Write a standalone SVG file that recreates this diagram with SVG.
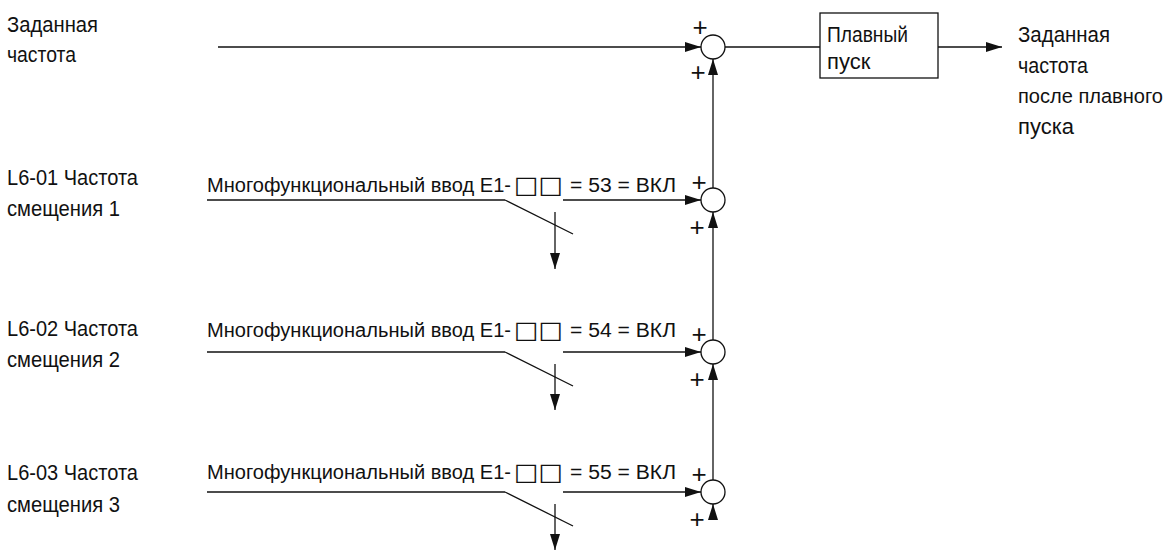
<svg xmlns="http://www.w3.org/2000/svg" width="1168" height="553" viewBox="0 0 1168 553">
<defs>
<style>
text{font-family:"Liberation Sans",Arial,sans-serif;font-size:22px;fill:#111}
.sw{font-size:20px}
.sq{font-family:"DejaVu Sans",sans-serif;font-size:24px}
.ln{stroke:#111;stroke-width:1.3;fill:none}
.sum{stroke:#111;stroke-width:1.3;fill:#fff}
.plus{font-size:26px;text-anchor:middle}
</style>
<marker id="ah" viewBox="0 0 16 10" refX="16" refY="5" markerWidth="16" markerHeight="10" markerUnits="userSpaceOnUse" orient="auto">
<path d="M0,0 L16,5 L0,10 Z" fill="#111"/>
</marker>
</defs>
<rect width="1168" height="553" fill="#fff"/>

<g id="label-ref-in">
<text x="7" y="32" textLength="91" lengthAdjust="spacingAndGlyphs">Заданная</text>
<text x="7" y="62" textLength="69" lengthAdjust="spacingAndGlyphs">частота</text>
</g>
<g id="label-L6-01">
<text x="7" y="185" textLength="131" lengthAdjust="spacingAndGlyphs">L6-01 Частота</text>
<text x="7" y="216" textLength="113" lengthAdjust="spacingAndGlyphs">смещения 1</text>
</g>
<g id="label-L6-02">
<text x="7" y="336" textLength="131" lengthAdjust="spacingAndGlyphs">L6-02 Частота</text>
<text x="7" y="367" textLength="113" lengthAdjust="spacingAndGlyphs">смещения 2</text>
</g>
<g id="label-L6-03">
<text x="7" y="480" textLength="131" lengthAdjust="spacingAndGlyphs">L6-03 Частота</text>
<text x="7" y="512" textLength="113" lengthAdjust="spacingAndGlyphs">смещения 3</text>
</g>

<g id="switch-1">
<text class="sw" x="207" y="192" textLength="304" lengthAdjust="spacingAndGlyphs">Многофункциональный ввод E1-</text>
<text class="sq" x="514" y="193" textLength="49" lengthAdjust="spacingAndGlyphs">□□</text>
<text class="sw" x="570" y="192" textLength="106" lengthAdjust="spacingAndGlyphs">= 53 = ВКЛ</text>
<path class="ln" d="M505,200 L573,234"/>
</g>
<g id="switch-2">
<text class="sw" x="207" y="337" textLength="304" lengthAdjust="spacingAndGlyphs">Многофункциональный ввод E1-</text>
<text class="sq" x="514" y="338" textLength="49" lengthAdjust="spacingAndGlyphs">□□</text>
<text class="sw" x="570" y="337" textLength="106" lengthAdjust="spacingAndGlyphs">= 54 = ВКЛ</text>
<path class="ln" d="M505,352 L573,386"/>
</g>
<g id="switch-3">
<text class="sw" x="207" y="479" textLength="304" lengthAdjust="spacingAndGlyphs">Многофункциональный ввод E1-</text>
<text class="sq" x="514" y="480" textLength="49" lengthAdjust="spacingAndGlyphs">□□</text>
<text class="sw" x="570" y="479" textLength="106" lengthAdjust="spacingAndGlyphs">= 55 = ВКЛ</text>
<path class="ln" d="M505,492 L573,526"/>
</g>

<g id="sum-0">
<circle class="sum" cx="713" cy="47" r="12"/>
<text class="plus" x="700" y="36">+</text>
<text class="plus" x="698" y="81">+</text>
</g>
<g id="sum-1">
<circle class="sum" cx="713" cy="200" r="12"/>
<text class="plus" x="699" y="191">+</text>
<text class="plus" x="697" y="236">+</text>
</g>
<g id="sum-2">
<circle class="sum" cx="713" cy="352" r="12"/>
<text class="plus" x="699" y="343">+</text>
<text class="plus" x="697" y="388">+</text>
</g>
<g id="sum-3">
<circle class="sum" cx="713" cy="492" r="12"/>
<text class="plus" x="699" y="483">+</text>
<text class="plus" x="697" y="528">+</text>
</g>

<g id="soft-start">
<rect x="820" y="13" width="118" height="65" fill="#fff" stroke="#111" stroke-width="1.3"/>
<text x="827" y="42" textLength="81" lengthAdjust="spacingAndGlyphs">Плавный</text>
<text x="827" y="69">пуск</text>
</g>

<g id="label-out">
<text x="1018" y="42" textLength="92" lengthAdjust="spacingAndGlyphs">Заданная</text>
<text x="1018" y="73" textLength="70" lengthAdjust="spacingAndGlyphs">частота</text>
<text x="1018" y="103" style="font-size:20.5px" textLength="145" lengthAdjust="spacingAndGlyphs">после плавного</text>
<text x="1018" y="134">пуска</text>
</g>

<g id="connectors">
<path class="ln" d="M218,47 L701,47" marker-end="url(#ah)"/>
<path class="ln" d="M725,47 L820,47"/>
<path class="ln" d="M938,47 L1002,47" marker-end="url(#ah)"/>

<path class="ln" d="M207,200 L505,200"/>
<path class="ln" d="M563,200 L701,200" marker-end="url(#ah)"/>
<path class="ln" d="M555,212 L555,269" marker-end="url(#ah)"/>

<path class="ln" d="M207,352 L505,352"/>
<path class="ln" d="M563,352 L701,352" marker-end="url(#ah)"/>
<path class="ln" d="M555,364 L555,410" marker-end="url(#ah)"/>

<path class="ln" d="M207,492 L505,492"/>
<path class="ln" d="M563,492 L701,492" marker-end="url(#ah)"/>
<path class="ln" d="M555,504 L555,550" marker-end="url(#ah)"/>

<path class="ln" d="M713,188 L713,59" marker-end="url(#ah)"/>
<path class="ln" d="M713,340 L713,212" marker-end="url(#ah)"/>
<path class="ln" d="M713,480 L713,364" marker-end="url(#ah)"/>
<path class="ln" d="M713,519 L713,504" marker-end="url(#ah)"/>
</g>
</svg>
